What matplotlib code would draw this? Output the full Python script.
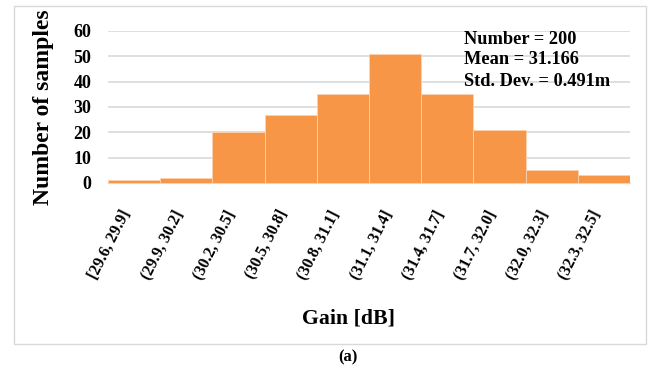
import matplotlib.pyplot as plt
from matplotlib.patches import Rectangle
from matplotlib.transforms import ScaledTranslation

bins = ['[29.6, 29.9]', '(29.9, 30.2]', '(30.2, 30.5]', '(30.5, 30.8]', '(30.8, 31.1]',
        '(31.1, 31.4]', '(31.4, 31.7]', '(31.7, 32.0]', '(32.0, 32.3]', '(32.3, 32.5]']
counts = [1, 2, 20, 27, 35, 51, 35, 21, 5, 3]
stats = ['Number = 200', 'Mean = 31.166', 'Std. Dev. = 0.491m']

plt.rcParams['font.family'] = ['Liberation Serif', 'DejaVu Serif']
plt.rcParams['font.weight'] = 'bold'

fig = plt.figure(figsize=(6.56, 3.68), dpi=100)
fig.patches.append(Rectangle((14/656, 1-344/368), 632/656, 338/368, transform=fig.transFigure,
                             fill=False, edgecolor='#d9d9d9', linewidth=1))

ax = fig.add_axes([108/656, 1-183/368, 522/656, 152/368])
x = range(len(counts))
ax.bar(x, counts, width=1.0, color='#f79646', edgecolor='#fbd3b3', linewidth=0.6, zorder=3)
ax.set_xlim(-0.5, len(counts) - 0.5)
ax.set_ylim(0, 60)
ax.set_yticks(range(0, 61, 10))
ax.grid(axis='y', color='#d9d9d9', linewidth=1.2, zorder=0)
for s in ['top', 'right', 'left']:
    ax.spines[s].set_visible(False)
ax.spines['bottom'].set_color('#d9d9d9')
ax.tick_params(axis='both', length=0)
ax.tick_params(axis='y', labelsize=13, pad=12)
ax.set_xticks(list(x))
ax.set_xticklabels(bins, rotation=63, ha='right', va='center', rotation_mode='anchor', fontsize=11.6)
ax.tick_params(axis='x', pad=20)
shift = ScaledTranslation(-7/100, 0, fig.dpi_scale_trans)
for lab in ax.get_xticklabels():
    lab.set_transform(lab.get_transform() + shift)

ax.set_ylabel('Number of samples', fontsize=17, fontweight='bold')
ax.yaxis.set_label_coords(-0.104, 0.5)
fig.text(349/656, 1-318/368, 'Gain [dB]', ha='center', va='center', fontsize=15.7, fontweight='bold')
fig.text(348/656, 1-357/368, '(a)', ha='center', va='center', fontsize=12, fontweight='bold')

for i, line in enumerate(stats):
    fig.text(464/656, 1-(39 + 21*i)/368, line, ha='left', va='center', fontsize=13.2, fontweight='bold')

fig.savefig('out.png', dpi=100)
